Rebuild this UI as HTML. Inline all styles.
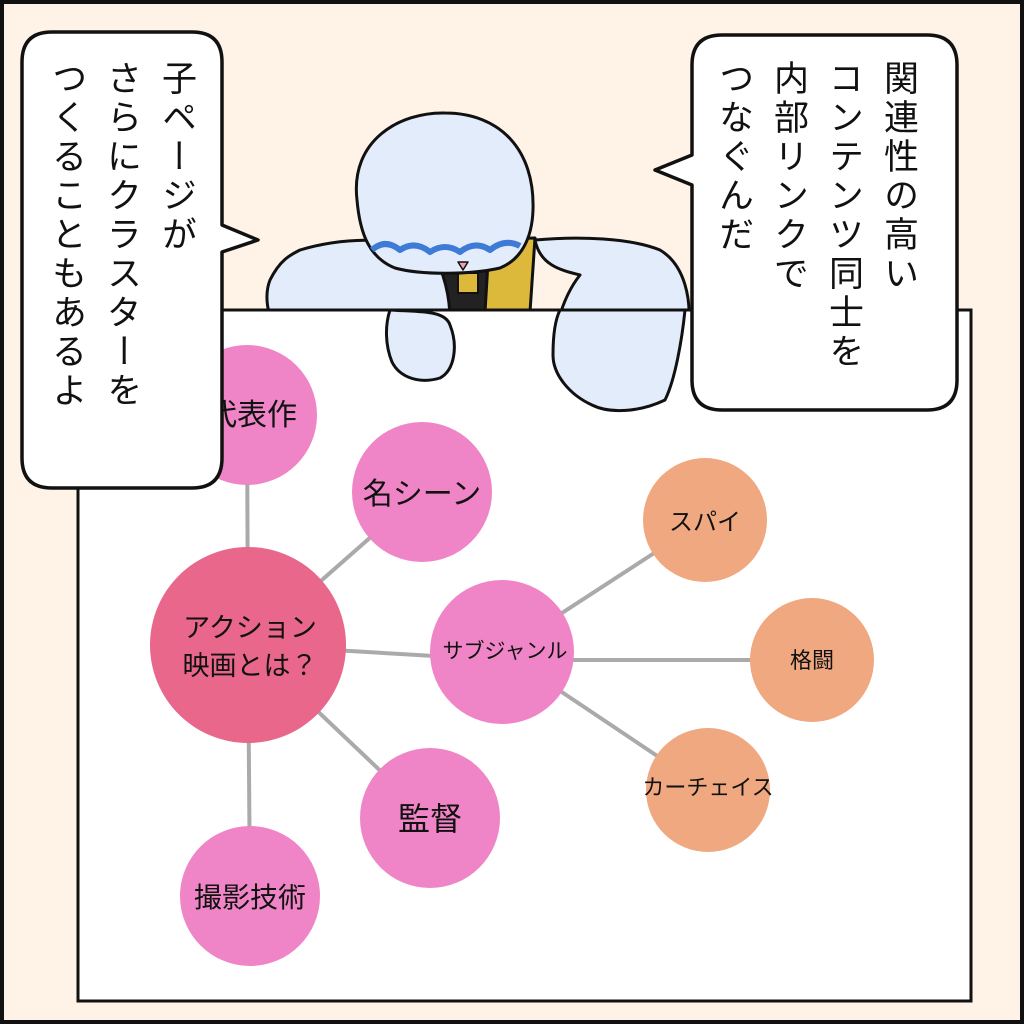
<!DOCTYPE html>
<html><head><meta charset="utf-8"><style>
html,body{margin:0;padding:0}
body{width:1024px;height:1024px;position:relative;overflow:hidden;background:#fff;font-family:"Liberation Sans","Noto Sans CJK JP",sans-serif}
.v{position:absolute;writing-mode:vertical-rl;font-size:35px;line-height:55px;color:#111;white-space:nowrap;letter-spacing:4px}
</style></head><body>
<svg width="1024" height="1024" style="position:absolute;left:0;top:0" font-family="Liberation Sans, Noto Sans CJK JP, sans-serif">
<rect x="2" y="2" width="1020" height="1020" fill="#fef3e6" stroke="#111" stroke-width="4"/>
<g stroke="#111" stroke-width="3" stroke-linejoin="round">
<path d="M420 240 L535 238 L530 312 L410 312 Z" fill="#dcb93a"/>
<path d="M438 262 L488 262 L485 312 L450 312 Z" fill="#222"/>
<rect x="458" y="273" width="20" height="20" fill="#dcb93a" stroke-width="2"/>
<path d="M535 240 C580 236 630 238 660 250 C685 265 692 300 688 330 C680 360 672 390 665 400 C640 410 610 415 590 405 C570 398 555 380 553 360 C552 340 560 300 580 275 C560 270 540 265 535 240 Z" fill="#e2ecfb"/>
<path d="M300 250 C340 238 390 236 430 250 C445 270 450 300 450 320 C455 345 450 370 440 375 C420 380 400 378 390 370 C360 360 320 355 290 345 C270 330 262 300 270 280 C280 260 290 255 300 250 Z" fill="#e2ecfb"/>
<path d="M357 200 C350 140 400 112 445 113 C500 113 535 150 533 210 C532 240 520 260 500 268 C470 275 420 275 395 268 C370 258 360 235 357 200 Z" fill="#e2ecfb"/>
<path d="M372 250 Q385 238 400 250 Q415 240 430 252 Q445 242 460 252 Q475 240 490 250 Q505 238 520 246" fill="none" stroke="#3d7bd6" stroke-width="6"/>
<path d="M458 262 L468 262 L463 270 Z" fill="#f0a0b0" stroke-width="1.5"/>
</g>
<rect x="78" y="310" width="893" height="691" fill="#fff" stroke="#111" stroke-width="3"/>
<g stroke="#111" stroke-width="3" stroke-linejoin="round" fill="#e2ecfb">
<path d="M390 310 C420 312 445 310 450 325 C458 345 455 370 440 378 C420 384 400 378 392 362 C385 345 385 325 390 310 Z"/>
<path d="M560 310 L685 310 C682 340 675 380 665 400 C640 412 610 414 592 405 C570 395 553 375 553 355 C553 335 555 320 560 310 Z"/>
</g>
<g stroke="#aaa" stroke-width="4">
<line x1="248" y1="645" x2="247" y2="415"/>
<line x1="248" y1="645" x2="422" y2="492"/>
<line x1="248" y1="645" x2="502" y2="660"/>
<line x1="248" y1="645" x2="430" y2="818"/>
<line x1="248" y1="645" x2="250" y2="896"/>
<line x1="502" y1="652" x2="705" y2="520"/>
<line x1="502" y1="660" x2="812" y2="660"/>
<line x1="502" y1="652" x2="708" y2="790"/>
</g>
<g fill="#ef85c6">
<circle cx="247" cy="415" r="70"/>
<circle cx="422" cy="492" r="70"/>
<circle cx="502" cy="652" r="72"/>
<circle cx="430" cy="818" r="70"/>
<circle cx="250" cy="896" r="70"/>
</g>
<circle cx="248" cy="645" r="98" fill="#e8678a"/>
<g fill="#f0a880">
<circle cx="705" cy="520" r="62"/>
<circle cx="812" cy="660" r="62"/>
<circle cx="708" cy="790" r="62"/>
</g>
<g fill="#111" text-anchor="middle">
<text x="252" y="425" font-size="30">代表作</text>
<text x="422" y="504" font-size="30">名シーン</text>
<text x="250" y="637" font-size="27">アクション</text>
<text x="250" y="675" font-size="27">映画とは？</text>
<text x="505" y="658" font-size="21">サブジャンル</text>
<text x="430" y="830" font-size="32">監督</text>
<text x="250" y="907" font-size="28">撮影技術</text>
<text x="705" y="530" font-size="24">スパイ</text>
<text x="812" y="668" font-size="22">格闘</text>
<text x="708" y="795" font-size="22">カーチェイス</text>
</g>
<g fill="#fff" stroke="#111" stroke-width="3.5" stroke-linejoin="round">
<path d="M52 32 L192 32 Q222 32 222 62 L222 225 L258 240 L222 252 L222 458 Q222 488 192 488 L52 488 Q22 488 22 458 L22 62 Q22 32 52 32 Z"/>
<path d="M722 35 L927 35 Q957 35 957 65 L957 380 Q957 410 927 410 L722 410 Q692 410 692 380 L692 185 L655 170 L692 155 L692 65 Q692 35 722 35 Z"/>
</g>
</svg>
<div class="v" style="right:820px;top:60px;width:165px;height:420px">子ページが<br>さらにクラスターを<br>つくることもあるよ</div>
<div class="v" style="right:98px;top:60px;width:220px;height:340px">関連性の高い<br>コンテンツ同士を<br>内部リンクで<br>つなぐんだ</div>
</body></html>
